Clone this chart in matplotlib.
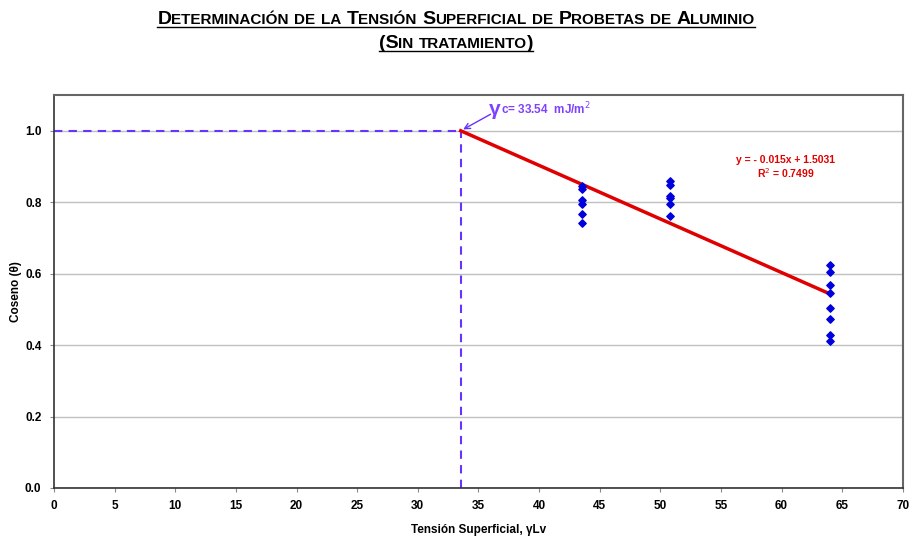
import matplotlib
matplotlib.use("Agg")
import matplotlib.pyplot as plt
from matplotlib.lines import Line2D
import numpy as np

plt.rcParams['font.family'] = ['Liberation Sans', 'DejaVu Sans']

# datos
x_puntos = [43.5] * 6 + [50.8] * 6 + [64.0] * 8
y_puntos = [0.846, 0.838, 0.807, 0.796, 0.768, 0.743,
            0.858, 0.849, 0.818, 0.811, 0.795, 0.761,
            0.625, 0.606, 0.569, 0.546, 0.504, 0.472, 0.427, 0.411]
pendiente = -0.015
intercepto = 1.5031
r2 = 0.7499
gamma_c = 33.54
x_fin = 64.0

morado_txt = '#8040FF'
morado_lin = '#6633FF'

fig = plt.figure(figsize=(9.12, 5.40), dpi=100)
ax = fig.add_axes([0.0592, 0.0963, 0.9308, 0.7277])

ax.set_xlim(0, 70)
ax.set_ylim(0, 1.1)
ax.set_xticks(np.arange(0, 71, 5))
ax.set_yticks(np.arange(0, 1.01, 0.2))
ax.set_yticklabels(['%.1f' % v for v in np.arange(0, 1.01, 0.2)])
ax.tick_params(labelsize=8.5, length=3, color='#888888', pad=6)
for lab in ax.get_xticklabels() + ax.get_yticklabels():
    lab.set_fontweight('bold')
ax.grid(axis='y', color='#c0c0c0', lw=1)
ax.set_axisbelow(True)
for s in ['left', 'bottom']:
    ax.spines[s].set_color('#333333')
    ax.spines[s].set_linewidth(1.2)
for s in ['top', 'right']:
    ax.spines[s].set_color('#666666')
    ax.spines[s].set_linewidth(1.5)

# lineas discontinuas hasta gamma_c
ax.plot([0, gamma_c], [1.0, 1.0], ls=(0, (4, 3)), color=morado_lin, lw=1.5, zorder=2)
ax.plot([gamma_c, gamma_c], [0, 1.0], ls=(0, (4, 3)), color=morado_lin, lw=1.5, zorder=2)

# recta de ajuste
xr = np.array([gamma_c, x_fin])
ax.plot(xr, pendiente * xr + intercepto, color='#E00000', lw=2.5, zorder=3)

ax.scatter(x_puntos, y_puntos, marker='D', s=14, color='#0000DD', zorder=4)

ax.text(0.862, 0.848, 'y = - 0.015x + 1.5031\nR$^2$ = 0.7499', transform=ax.transAxes,
        ha='center', va='top', color='#E00000', fontsize=7.5, fontweight='bold', linespacing=1.1)

ax.annotate('', xy=(gamma_c, 1.0), xytext=(36.2, 1.05),
            arrowprops=dict(arrowstyle='->', color=morado_lin, lw=1))
ax.text(35.9, 1.045, '\u03b3', color=morado_txt, fontsize=15, fontweight='bold',
        ha='left', va='baseline')
ax.text(36.9, 1.045, 'c= %.2f  mJ/m$^2$' % gamma_c, color=morado_txt, fontsize=8.5,
        fontweight='bold', ha='left', va='baseline')

ax.set_ylabel('Coseno (\u03b8)', fontsize=8.5, fontweight='bold', labelpad=2)
ax.set_xlabel('Tensi\u00f3n Superficial, \u03b3Lv', fontsize=8.5,
              fontweight='bold', labelpad=8)


# titulo en versalitas subrayado
def versalitas(texto, y_px, grande=14, chica=11):
    trozos = []
    for palabra in texto.split(' '):
        if trozos:
            trozos.append((' ', grande))
        actual = ''
        tam = None
        for c in palabra:
            t = grande if (c.isupper() or not c.isalpha()) else chica
            if tam is None or t == tam:
                actual += c
            else:
                trozos.append((actual, tam))
                actual = c
            tam = t
        trozos.append((actual, tam))
    r = fig.canvas.get_renderer()
    textos = []
    for s, t in trozos:
        tx = fig.text(0, 0, s.upper(), fontsize=t, fontweight='bold',
                      transform=None, va='baseline')
        textos.append(tx)
    anchos = []
    for tx in textos:
        bb = tx.get_window_extent(r)
        anchos.append(bb.width)
    total = sum(anchos)
    x0 = fig.bbox.width / 2 - total / 2
    yb = fig.bbox.height - y_px
    x = x0
    for tx, w in zip(textos, anchos):
        tx.set_position((x, yb))
        x += w
    fig.add_artist(Line2D([x0, x0 + total], [yb - 2.5, yb - 2.5], transform=None,
                          color='black', lw=1))


versalitas('Determinación de la Tensión Superficial de Probetas de Aluminio', 24)
versalitas('(Sin tratamiento)', 48)

fig.savefig('out.png', dpi=100)
